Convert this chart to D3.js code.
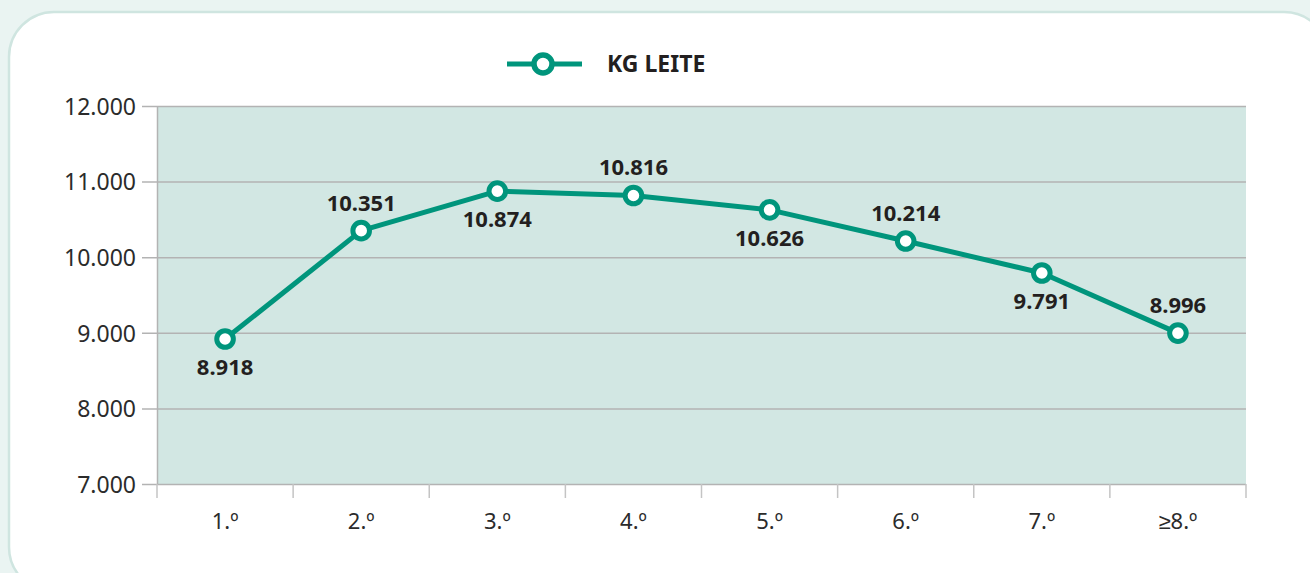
<!DOCTYPE html>
<html>
<head>
<meta charset="utf-8">
<script src="https://cdn.jsdelivr.net/npm/d3@7"></script>
<style>
  html, body { margin: 0; padding: 0; background: #eaf4f2; }
  svg { display: block; font-family: "Noto Sans", sans-serif; }
</style>
</head>
<body>
<svg id="chart" width="1310" height="573"></svg>
<script>
'use strict';

// chart data
var categories = ['1.º', '2.º', '3.º', '4.º', '5.º', '6.º', '7.º', '≥8.º'];
var kgLeite = [8918, 10351, 10874, 10816, 10626, 10214, 9791, 8996];
// where each value label sits relative to its point
var labelSide = ['below', 'above', 'below', 'above', 'below', 'above', 'below', 'above'];
var yTicks = [7000, 8000, 9000, 10000, 11000, 12000];
var seriesName = 'KG LEITE';

var green = '#00957c';
var ptFormat = d3.formatLocale({ decimal: ',', thousands: '.', grouping: [3], currency: ['€', ''] }).format(',.0f');

var svg = d3.select('#chart');
var margin = { left: 157, right: 1246, top: 106, bottom: 484 };

// white card behind the chart
svg.append('rect')
  .attr('x', 9).attr('y', 12)
  .attr('width', 1320).attr('height', 580)
  .attr('rx', 45).attr('ry', 45)
  .attr('fill', '#fff')
  .attr('stroke', '#cfe5e0')
  .attr('stroke-width', 2.5);

var x = d3.scaleBand()
  .domain(categories)
  .range([margin.left, margin.right])
  .padding(0);

var y = d3.scaleLinear()
  .domain([7000, 12000])
  .range([margin.bottom, margin.top]);

// plot background
svg.append('rect')
  .attr('x', margin.left).attr('y', margin.top)
  .attr('width', margin.right - margin.left)
  .attr('height', margin.bottom - margin.top)
  .attr('fill', '#d2e7e3');

// y axis, gridlines come from the tick lines
var yAxis = svg.append('g')
  .attr('transform', 'translate(' + margin.left + ',0)')
  .call(d3.axisLeft(y)
    .tickValues(yTicks)
    .tickFormat(ptFormat)
    .tickSizeInner(-(margin.right - margin.left))
    .tickSizeOuter(0)
    .tickPadding(21));

yAxis.select('.domain').attr('stroke', '#b3b3b3').attr('stroke-width', 1.5);
yAxis.selectAll('.tick line')
  .attr('x1', -15)
  .attr('stroke', '#b3b3b3')
  .attr('stroke-width', 1.5);
yAxis.selectAll('.tick text')
  .attr('font-size', 23)
  .attr('font-family', '"Noto Sans", sans-serif')
  .attr('fill', '#2b2b2b')
  .attr('dy', '0.36em');

// x axis with ticks on the band edges
var xAxis = svg.append('g')
  .attr('transform', 'translate(0,' + margin.bottom + ')');

xAxis.selectAll('line.edge')
  .data(categories.concat(['end']))
  .enter().append('line')
  .attr('class', 'edge')
  .attr('x1', function(d, i) { return margin.left + i * x.bandwidth(); })
  .attr('x2', function(d, i) { return margin.left + i * x.bandwidth(); })
  .attr('y1', 0).attr('y2', 14)
  .attr('stroke', '#c4c4c4')
  .attr('stroke-width', 1.5);

xAxis.selectAll('text')
  .data(categories)
  .enter().append('text')
  .attr('x', function(d) { return x(d) + x.bandwidth() / 2; })
  .attr('y', 45)
  .attr('text-anchor', 'middle')
  .attr('font-size', 22)
  .attr('fill', '#2b2b2b')
  .text(function(d) { return d; });

// series line
var line = d3.line()
  .x(function(d, i) { return x(categories[i]) + x.bandwidth() / 2; })
  .y(function(d) { return y(d); });

svg.append('path')
  .datum(kgLeite)
  .attr('d', line)
  .attr('fill', 'none')
  .attr('stroke', green)
  .attr('stroke-width', 5)
  .attr('stroke-linejoin', 'round');

svg.selectAll('circle.pt')
  .data(kgLeite)
  .enter().append('circle')
  .attr('class', 'pt')
  .attr('cx', function(d, i) { return x(categories[i]) + x.bandwidth() / 2; })
  .attr('cy', function(d) { return y(d); })
  .attr('r', 8.3)
  .attr('fill', '#fff')
  .attr('stroke', green)
  .attr('stroke-width', 5);

// value labels
svg.selectAll('text.val')
  .data(kgLeite)
  .enter().append('text')
  .attr('class', 'val')
  .attr('x', function(d, i) { return x(categories[i]) + x.bandwidth() / 2; })
  .attr('y', function(d, i) { return y(d) + (labelSide[i] === 'above' ? -28 : 28); })
  .attr('dy', '0.36em')
  .attr('text-anchor', 'middle')
  .attr('font-size', 22)
  .attr('font-weight', 'bold')
  .attr('fill', '#231f20')
  .text(function(d) { return ptFormat(d); });

// legend
var legend = svg.append('g').attr('transform', 'translate(507,64)');
legend.append('line')
  .attr('x1', 0).attr('x2', 75)
  .attr('y1', 0).attr('y2', 0)
  .attr('stroke', green)
  .attr('stroke-width', 5);
legend.append('circle')
  .attr('cx', 36).attr('cy', 0).attr('r', 9)
  .attr('fill', '#fff')
  .attr('stroke', green)
  .attr('stroke-width', 5.5);
legend.append('text')
  .attr('x', 100).attr('y', 0)
  .attr('dy', '0.36em')
  .attr('font-size', 23)
  .attr('font-weight', 'bold')
  .attr('fill', '#231f20')
  .text(seriesName);
</script>
</body>
</html>
